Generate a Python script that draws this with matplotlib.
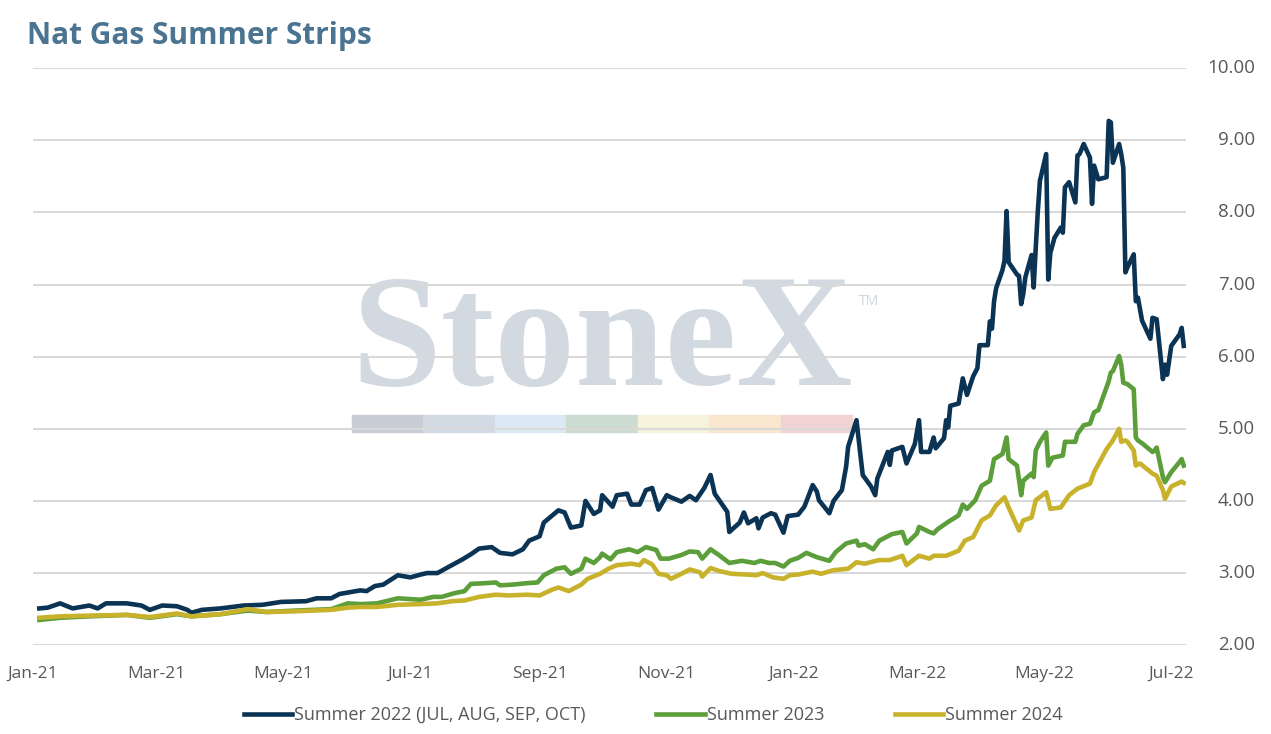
import pandas as pd
import matplotlib.dates as mdates
from matplotlib import pyplot as plt
from matplotlib.patches import Rectangle

# Summer 2022 (JUL-OCT) strip, $/MMBtu
summer_2022 = [
    ("2021-01-04", 2.51), ("2021-01-08", 2.52), ("2021-01-14", 2.58), ("2021-01-20", 2.51),
    ("2021-01-28", 2.55), ("2021-02-01", 2.51), ("2021-02-05", 2.58), ("2021-02-15", 2.58),
    ("2021-02-22", 2.55), ("2021-02-26", 2.49), ("2021-03-04", 2.55), ("2021-03-11", 2.54),
    ("2021-03-16", 2.49), ("2021-03-18", 2.45), ("2021-03-23", 2.49), ("2021-04-01", 2.51),
    ("2021-04-12", 2.55), ("2021-04-21", 2.56), ("2021-04-30", 2.60), ("2021-05-12", 2.61),
    ("2021-05-17", 2.65), ("2021-05-24", 2.65), ("2021-05-28", 2.71), ("2021-06-07", 2.76),
    ("2021-06-10", 2.75), ("2021-06-14", 2.82), ("2021-06-18", 2.84), ("2021-06-25", 2.97),
    ("2021-07-01", 2.94), ("2021-07-06", 2.98), ("2021-07-09", 3.00), ("2021-07-14", 3.00),
    ("2021-07-19", 3.08), ("2021-07-26", 3.19), ("2021-07-30", 3.26), ("2021-08-03", 3.34),
    ("2021-08-09", 3.36), ("2021-08-13", 3.28), ("2021-08-19", 3.26), ("2021-08-24", 3.33),
    ("2021-08-27", 3.45), ("2021-09-01", 3.51), ("2021-09-03", 3.70), ("2021-09-10", 3.87),
    ("2021-09-13", 3.84), ("2021-09-16", 3.63), ("2021-09-21", 3.66), ("2021-09-23", 4.00),
    ("2021-09-27", 3.82), ("2021-09-30", 3.87), ("2021-10-01", 4.08), ("2021-10-06", 3.92),
    ("2021-10-08", 4.08), ("2021-10-13", 4.10), ("2021-10-15", 3.95), ("2021-10-19", 3.95),
    ("2021-10-22", 4.15), ("2021-10-25", 4.18), ("2021-10-28", 3.88), ("2021-11-01", 4.08),
    ("2021-11-03", 4.05), ("2021-11-08", 3.99), ("2021-11-12", 4.07), ("2021-11-15", 4.01),
    ("2021-11-19", 4.18), ("2021-11-22", 4.36), ("2021-11-24", 4.10), ("2021-11-30", 3.85),
    ("2021-12-01", 3.57), ("2021-12-06", 3.70), ("2021-12-08", 3.84), ("2021-12-10", 3.69),
    ("2021-12-14", 3.76), ("2021-12-15", 3.62), ("2021-12-17", 3.77), ("2021-12-21", 3.83),
    ("2021-12-23", 3.81), ("2021-12-27", 3.56), ("2021-12-29", 3.79), ("2022-01-03", 3.81),
    ("2022-01-06", 3.92), ("2022-01-10", 4.22), ("2022-01-12", 4.13), ("2022-01-13", 4.01),
    ("2022-01-18", 3.83), ("2022-01-20", 4.00), ("2022-01-24", 4.15), ("2022-01-26", 4.47),
    ("2022-01-27", 4.75), ("2022-01-31", 5.12), ("2022-02-03", 4.36), ("2022-02-07", 4.20),
    ("2022-02-09", 4.08), ("2022-02-10", 4.31), ("2022-02-15", 4.68), ("2022-02-16", 4.50),
    ("2022-02-17", 4.70), ("2022-02-22", 4.75), ("2022-02-24", 4.52), ("2022-02-28", 4.79),
    ("2022-03-02", 5.12), ("2022-03-03", 4.68), ("2022-03-07", 4.68), ("2022-03-09", 4.88),
    ("2022-03-10", 4.73), ("2022-03-14", 4.87), ("2022-03-15", 5.12), ("2022-03-16", 5.02),
    ("2022-03-17", 5.32), ("2022-03-21", 5.35), ("2022-03-23", 5.70), ("2022-03-25", 5.47),
    ("2022-03-28", 5.73), ("2022-03-30", 5.84), ("2022-03-31", 6.16), ("2022-04-04", 6.16),
    ("2022-04-05", 6.49), ("2022-04-06", 6.39), ("2022-04-07", 6.77), ("2022-04-08", 6.95),
    ("2022-04-11", 7.20), ("2022-04-12", 7.33), ("2022-04-13", 8.02), ("2022-04-14", 7.31),
    ("2022-04-18", 7.14), ("2022-04-19", 7.12), ("2022-04-20", 6.73), ("2022-04-21", 6.87),
    ("2022-04-22", 7.10), ("2022-04-25", 7.41), ("2022-04-26", 6.96), ("2022-04-27", 7.51),
    ("2022-04-28", 8.02), ("2022-04-29", 8.44), ("2022-05-02", 8.81), ("2022-05-03", 7.07),
    ("2022-05-04", 7.44), ("2022-05-06", 7.65), ("2022-05-09", 7.79), ("2022-05-10", 7.72),
    ("2022-05-11", 8.35), ("2022-05-13", 8.42), ("2022-05-16", 8.14), ("2022-05-17", 8.79),
    ("2022-05-18", 8.81), ("2022-05-20", 8.95), ("2022-05-23", 8.76), ("2022-05-24", 8.12),
    ("2022-05-25", 8.65), ("2022-05-27", 8.46), ("2022-05-31", 8.49), ("2022-06-01", 9.27),
    ("2022-06-02", 9.25), ("2022-06-03", 8.69), ("2022-06-06", 8.95), ("2022-06-07", 8.81),
    ("2022-06-08", 8.62), ("2022-06-09", 7.17), ("2022-06-10", 7.24), ("2022-06-13", 7.42),
    ("2022-06-14", 6.77), ("2022-06-15", 6.82), ("2022-06-17", 6.50), ("2022-06-21", 6.25),
    ("2022-06-22", 6.54), ("2022-06-24", 6.52), ("2022-06-27", 5.69), ("2022-06-28", 5.89),
    ("2022-06-29", 5.75), ("2022-06-30", 5.95), ("2022-07-01", 6.15), ("2022-07-05", 6.31),
    ("2022-07-06", 6.40), ("2022-07-07", 6.15),
]

summer_2023 = [
    ("2021-01-04", 2.35), ("2021-01-14", 2.38), ("2021-01-28", 2.40), ("2021-02-15", 2.42),
    ("2021-02-26", 2.38), ("2021-03-11", 2.43), ("2021-03-18", 2.40), ("2021-04-01", 2.43),
    ("2021-04-14", 2.48), ("2021-04-23", 2.46), ("2021-05-07", 2.48), ("2021-05-24", 2.50),
    ("2021-06-01", 2.58), ("2021-06-07", 2.57), ("2021-06-15", 2.58), ("2021-06-25", 2.65),
    ("2021-07-06", 2.63), ("2021-07-12", 2.67), ("2021-07-16", 2.67), ("2021-07-22", 2.72),
    ("2021-07-27", 2.75), ("2021-07-30", 2.85), ("2021-08-06", 2.86), ("2021-08-11", 2.87),
    ("2021-08-13", 2.83), ("2021-08-19", 2.84), ("2021-08-26", 2.86), ("2021-08-31", 2.87),
    ("2021-09-03", 2.97), ("2021-09-09", 3.06), ("2021-09-13", 3.08), ("2021-09-16", 2.99),
    ("2021-09-21", 3.06), ("2021-09-23", 3.20), ("2021-09-27", 3.14), ("2021-09-30", 3.22),
    ("2021-10-01", 3.27), ("2021-10-05", 3.19), ("2021-10-08", 3.29), ("2021-10-14", 3.33),
    ("2021-10-18", 3.29), ("2021-10-22", 3.36), ("2021-10-27", 3.32), ("2021-10-29", 3.20),
    ("2021-11-02", 3.20), ("2021-11-08", 3.25), ("2021-11-12", 3.30), ("2021-11-16", 3.29),
    ("2021-11-18", 3.20), ("2021-11-22", 3.33), ("2021-11-26", 3.25), ("2021-12-01", 3.14),
    ("2021-12-07", 3.17), ("2021-12-13", 3.14), ("2021-12-16", 3.17), ("2021-12-20", 3.14),
    ("2021-12-23", 3.14), ("2021-12-27", 3.09), ("2021-12-30", 3.17), ("2022-01-03", 3.21),
    ("2022-01-07", 3.28), ("2022-01-12", 3.22), ("2022-01-18", 3.17), ("2022-01-21", 3.29),
    ("2022-01-26", 3.41), ("2022-01-31", 3.45), ("2022-02-01", 3.38), ("2022-02-04", 3.40),
    ("2022-02-08", 3.33), ("2022-02-11", 3.45), ("2022-02-17", 3.54), ("2022-02-22", 3.57),
    ("2022-02-24", 3.41), ("2022-03-01", 3.55), ("2022-03-02", 3.64), ("2022-03-07", 3.57),
    ("2022-03-09", 3.55), ("2022-03-11", 3.61), ("2022-03-16", 3.71), ("2022-03-21", 3.80),
    ("2022-03-23", 3.95), ("2022-03-25", 3.89), ("2022-03-29", 4.01), ("2022-04-01", 4.21),
    ("2022-04-05", 4.28), ("2022-04-07", 4.58), ("2022-04-11", 4.65), ("2022-04-13", 4.88),
    ("2022-04-14", 4.58), ("2022-04-18", 4.49), ("2022-04-20", 4.08), ("2022-04-21", 4.28),
    ("2022-04-25", 4.38), ("2022-04-26", 4.33), ("2022-04-27", 4.70), ("2022-04-29", 4.82),
    ("2022-05-02", 4.95), ("2022-05-03", 4.49), ("2022-05-05", 4.60), ("2022-05-10", 4.63),
    ("2022-05-11", 4.82), ("2022-05-16", 4.82), ("2022-05-17", 4.93), ("2022-05-20", 5.05),
    ("2022-05-23", 5.07), ("2022-05-25", 5.23), ("2022-05-27", 5.26), ("2022-06-01", 5.66),
    ("2022-06-02", 5.78), ("2022-06-03", 5.80), ("2022-06-06", 6.01), ("2022-06-07", 5.89),
    ("2022-06-08", 5.64), ("2022-06-10", 5.62), ("2022-06-13", 5.55), ("2022-06-14", 4.88),
    ("2022-06-15", 4.84), ("2022-06-17", 4.80), ("2022-06-22", 4.68), ("2022-06-23", 4.70),
    ("2022-06-24", 4.74), ("2022-06-27", 4.33), ("2022-06-28", 4.26), ("2022-07-01", 4.40),
    ("2022-07-05", 4.54), ("2022-07-06", 4.58), ("2022-07-07", 4.49),
]

summer_2024 = [
    ("2021-01-04", 2.38), ("2021-01-14", 2.40), ("2021-01-28", 2.41), ("2021-02-15", 2.42),
    ("2021-02-26", 2.39), ("2021-03-11", 2.44), ("2021-03-18", 2.40), ("2021-04-01", 2.43),
    ("2021-04-14", 2.50), ("2021-04-23", 2.46), ("2021-05-07", 2.47), ("2021-05-24", 2.49),
    ("2021-06-01", 2.52), ("2021-06-07", 2.53), ("2021-06-15", 2.53), ("2021-06-25", 2.56),
    ("2021-07-06", 2.57), ("2021-07-14", 2.58), ("2021-07-21", 2.61), ("2021-07-27", 2.62),
    ("2021-08-03", 2.67), ("2021-08-11", 2.70), ("2021-08-17", 2.69), ("2021-08-26", 2.70),
    ("2021-09-01", 2.69), ("2021-09-07", 2.77), ("2021-09-10", 2.80), ("2021-09-15", 2.75),
    ("2021-09-21", 2.84), ("2021-09-24", 2.92), ("2021-09-30", 2.99), ("2021-10-04", 3.06),
    ("2021-10-08", 3.11), ("2021-10-15", 3.13), ("2021-10-19", 3.11), ("2021-10-21", 3.18),
    ("2021-10-25", 3.12), ("2021-10-28", 2.99), ("2021-11-01", 2.97), ("2021-11-03", 2.92),
    ("2021-11-08", 2.99), ("2021-11-12", 3.05), ("2021-11-17", 3.01), ("2021-11-18", 2.95),
    ("2021-11-22", 3.07), ("2021-11-26", 3.03), ("2021-12-02", 2.99), ("2021-12-09", 2.98),
    ("2021-12-14", 2.97), ("2021-12-17", 3.00), ("2021-12-22", 2.94), ("2021-12-27", 2.92),
    ("2021-12-30", 2.97), ("2022-01-03", 2.98), ("2022-01-10", 3.02), ("2022-01-14", 2.99),
    ("2022-01-20", 3.04), ("2022-01-27", 3.06), ("2022-01-31", 3.15), ("2022-02-04", 3.13),
    ("2022-02-08", 3.16), ("2022-02-11", 3.18), ("2022-02-16", 3.18), ("2022-02-22", 3.24),
    ("2022-02-24", 3.11), ("2022-03-02", 3.24), ("2022-03-07", 3.20), ("2022-03-09", 3.24),
    ("2022-03-15", 3.24), ("2022-03-21", 3.31), ("2022-03-24", 3.45), ("2022-03-28", 3.50),
    ("2022-04-01", 3.73), ("2022-04-05", 3.80), ("2022-04-08", 3.94), ("2022-04-12", 4.05),
    ("2022-04-14", 3.91), ("2022-04-19", 3.59), ("2022-04-21", 3.73), ("2022-04-25", 3.77),
    ("2022-04-27", 4.01), ("2022-05-02", 4.12), ("2022-05-04", 3.89), ("2022-05-09", 3.91),
    ("2022-05-13", 4.08), ("2022-05-17", 4.17), ("2022-05-23", 4.24), ("2022-05-25", 4.40),
    ("2022-05-31", 4.72), ("2022-06-03", 4.84), ("2022-06-06", 5.00), ("2022-06-07", 4.82),
    ("2022-06-09", 4.84), ("2022-06-10", 4.82), ("2022-06-13", 4.70), ("2022-06-14", 4.49),
    ("2022-06-16", 4.52), ("2022-06-22", 4.38), ("2022-06-24", 4.35), ("2022-06-27", 4.15),
    ("2022-06-28", 4.03), ("2022-07-01", 4.20), ("2022-07-06", 4.27), ("2022-07-07", 4.25),
]

series_labels = ["Summer 2022 (JUL, AUG, SEP, OCT)", "Summer 2023", "Summer 2024"]
y_ticks = [2, 3, 4, 5, 6, 7, 8, 9, 10]

plt.rcParams["font.family"] = ["Open Sans", "DejaVu Sans"]

fig = plt.figure(figsize=(12.71, 7.34), dpi=100)
ax = fig.add_axes([0.026, 0.121, 0.907, 0.786])

# StoneX watermark, kept under the gridlines
ax.text(0.474, 0.4755, "StoneX", family="Liberation Serif", fontweight="semibold",
        fontsize=116, color="#d2d9e1", ha="center", va="baseline",
        transform=fig.transFigure, zorder=0.1, clip_on=False)
ax.text(0.676, 0.585, "TM", fontsize=10, color="#cfd6df", transform=fig.transFigure,
        zorder=0.1, clip_on=False)
bar_colors = ["#c9ced6", "#d2dae4", "#dce8f3", "#cddcd1", "#f6f3dc", "#f8e6cf", "#f2d3d3"]
for i, c in enumerate(bar_colors):
    ax.add_patch(Rectangle((0.277 + i * 0.0562, 0.411), 0.0562, 0.024,
                           transform=fig.transFigure, color=c, zorder=0.1, clip_on=False))

colors = ["#0b3354", "#5b9e3a", "#c9b22b"]
for data, label, color in zip([summer_2022, summer_2023, summer_2024], series_labels, colors):
    dates, values = zip(*data)
    ax.plot(pd.to_datetime(list(dates)), values, color=color, lw=3.3, label=label,
            solid_joinstyle="round", zorder=3)

ax.set_ylim(2, 10)
ax.set_yticks(y_ticks)
ax.tick_params(axis="y", length=0, labelleft=False, labelright=False)
# right-aligned price labels on the right side, as in the source
for v in y_ticks:
    ax.text(1.06, v, f"{v:.2f}", transform=ax.get_yaxis_transform(), ha="right",
            va="center", fontsize=13.5, color="#595959", clip_on=False)

ax.set_xlim(pd.Timestamp("2021-01-01"), pd.Timestamp("2022-07-08"))
ax.xaxis.set_major_locator(mdates.MonthLocator(bymonth=[1, 3, 5, 7, 9, 11]))
ax.xaxis.set_major_formatter(mdates.DateFormatter("%b-%y"))
ax.tick_params(axis="x", length=0, pad=15, labelsize=12.5, labelcolor="#595959")

ax.grid(axis="y", color="#d9d9d9", lw=1.5, zorder=0.5)
ax.set_axisbelow(True)
for s in ax.spines.values():
    s.set_visible(False)

fig.text(0.021, 0.951, "Nat Gas Summer Strips", fontsize=21.5, fontweight="bold",
         color="#4a7491", va="center")

fig.legend(loc="center", bbox_to_anchor=(0.514, 0.026), ncol=3, frameon=False,
           fontsize=13, labelcolor="#595959", handlelength=2.7, handletextpad=0.1,
           columnspacing=3.9)

fig.savefig("out.png", dpi=100)
